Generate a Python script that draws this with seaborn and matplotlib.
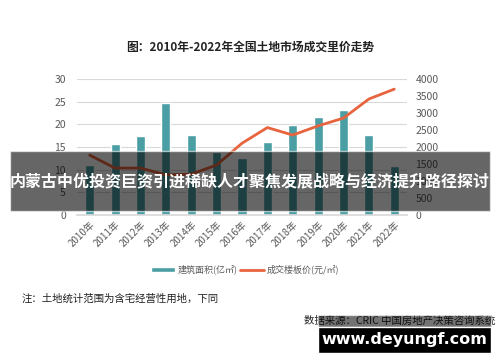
import numpy as np
import pandas as pd
import matplotlib
matplotlib.use("Agg")
import matplotlib.pyplot as plt
import seaborn as sns
from matplotlib.patches import Patch, Rectangle
from matplotlib.lines import Line2D

years = ["2010年", "2011年", "2012年", "2013年", "2014年", "2015年", "2016年",
         "2017年", "2018年", "2019年", "2020年", "2021年", "2022年"]
area = [11.0, 15.7, 17.5, 24.8, 17.7, 13.9, 12.5, 16.0, 19.9, 21.6, 23.2, 17.7, 10.9]
price = [1760, 1380, 1380, 1180, 1200, 1470, 2110, 2570, 2350, 2620, 2850, 3410, 3700]

title = "图：2010年-2022年全国土地市场成交里价走势"
note = "注：土地统计范围为含宅经营性用地，下同"
source = "数据来源：CRIC 中国房地产决策咨询系统"
banner = "内蒙古中优投资巨资引进稀缺人才聚焦发展战略与经济提升路径探讨"
site = "www.deyungf.com"

bar_color = "#4a9ea4"
line_color = "#e8643e"
tick_color = "#595959"

sns.set_theme(style="white")
plt.rcParams["font.family"] = ["Noto Sans CJK SC", "DejaVu Sans"]

df = pd.DataFrame({"year": years, "area": area, "price": price, "pos": np.arange(len(years))})

fig = plt.figure(figsize=(5, 3.62), dpi=100)
ax = fig.add_axes([0.154, 0.406, 0.66, 0.376])

sns.barplot(data=df, x="year", y="area", color=bar_color, width=0.36,
            saturation=1, ax=ax)
ax.set_ylim(0, 30)
ax.set_yticks(range(0, 31, 5))
ax.set_xlim(-0.5, 12.5)
ax.grid(axis="y", color="#d9d9d9", linewidth=0.8)
ax.set_axisbelow(True)
for s in ["top", "right", "left"]:
    ax.spines[s].set_visible(False)
ax.spines["bottom"].set_color("#d9d9d9")
ax.set_xlabel("")
ax.set_ylabel("")
ax.tick_params(axis="y", labelsize=7.5, colors=tick_color, length=0, pad=8)
ax.tick_params(axis="x", labelsize=7, colors=tick_color, length=0, pad=3)
plt.setp(ax.get_xticklabels(), rotation=45, ha="right", rotation_mode="anchor")

ax2 = ax.twinx()
sns.lineplot(data=df, x="pos", y="price", color=line_color, linewidth=2, ax=ax2)
ax2.set_ylim(0, 4000)
ax2.set_yticks(range(0, 4001, 500))
ax2.set_xlim(-0.5, 12.5)
for s in ax2.spines.values():
    s.set_visible(False)
ax2.set_ylabel("")
ax2.tick_params(axis="y", labelsize=7.5, colors=tick_color, length=0, pad=6)

fig.text(0.5, 0.87, title, ha="center", va="center", fontsize=8.5,
         fontweight="bold", color="#222222")

handles = [Patch(facecolor=bar_color, label="建筑面积(亿㎡)"),
           Line2D([0], [0], color=line_color, linewidth=2, label="成交楼板价(元/㎡)")]
fig.legend(handles=handles, loc="center", bbox_to_anchor=(0.49, 0.255), ncol=2,
           frameon=False, fontsize=6.5, handlelength=2.6, handleheight=0.6,
           columnspacing=0.3, handletextpad=0.3, labelcolor=tick_color)

fig.text(0.044, 0.175, note, ha="left", va="center", fontsize=7.5, color="#222222")
fig.text(0.99, 0.113, source, ha="right", va="center", fontsize=7.5, color="#222222")

# overlay banner
fig.patches.append(Rectangle((0.02, 0.417), 0.96, 0.166, transform=fig.transFigure,
                             facecolor="black", alpha=0.6, zorder=5))
fig.text(0.5, 0.5, banner, ha="center", va="center", fontsize=11.5,
         fontweight="bold", color="white", zorder=6)

# watermark
fig.patches.append(Rectangle((0.636, 0.097), 0.346, 0.033, transform=fig.transFigure,
                             facecolor="black", alpha=0.55, zorder=5))
fig.patches.append(Rectangle((0.636, 0.025), 0.346, 0.072, transform=fig.transFigure,
                             facecolor="black", zorder=5))
fig.text(0.809, 0.063, site, ha="center", va="center", fontsize=11.5,
         fontweight="bold", color="white", family="DejaVu Sans", zorder=6)

fig.savefig("out.png", dpi=100)
